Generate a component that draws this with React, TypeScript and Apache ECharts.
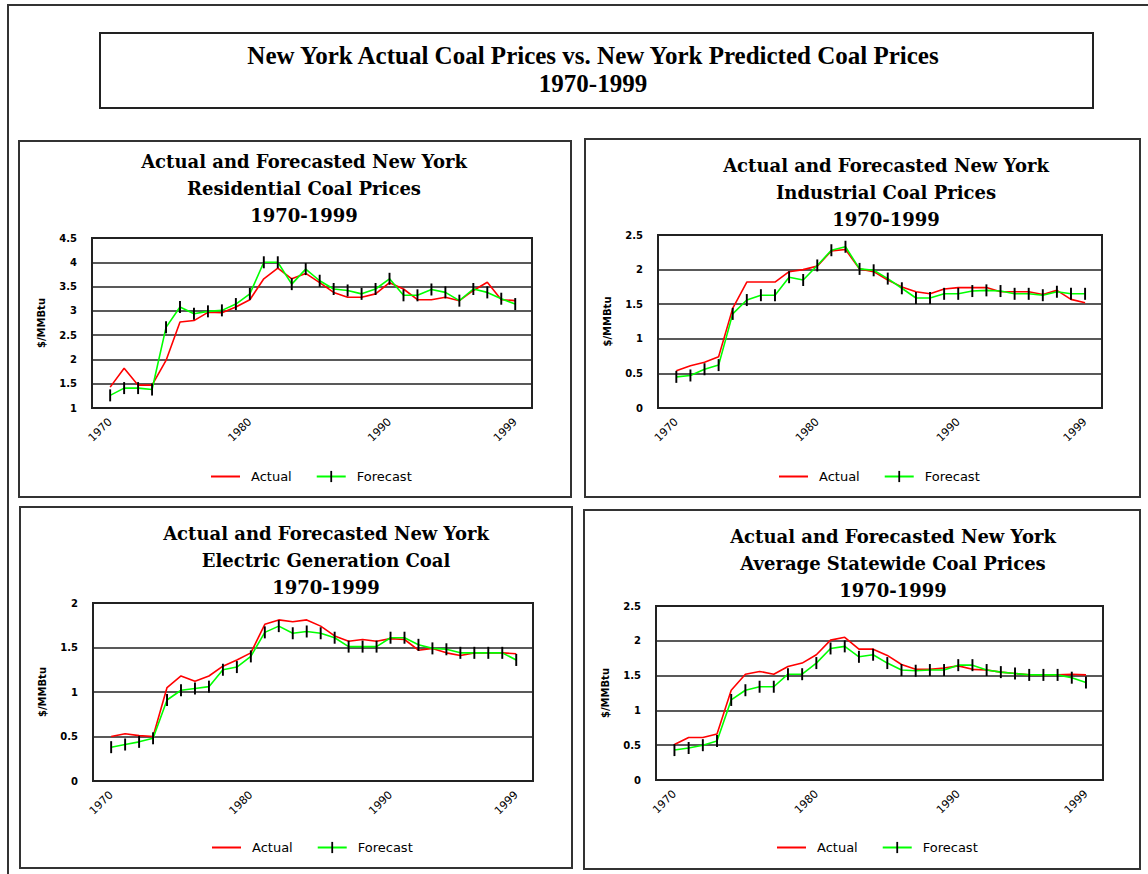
import React, { useEffect, useRef } from "react";
import * as echarts from "echarts";

const years = [
  1970, 1971, 1972, 1973, 1974, 1975, 1976, 1977, 1978, 1979,
  1980, 1981, 1982, 1983, 1984, 1985, 1986, 1987, 1988, 1989,
  1990, 1991, 1992, 1993, 1994, 1995, 1996, 1997, 1998, 1999,
];
const xLabelYears = [1970, 1980, 1990, 1999];
const seriesNames = ["Actual", "Forecast"];

const mainTitle = "New York Actual Coal Prices vs. New York Predicted Coal Prices\n1970-1999";
const panelTitles = [
  "Actual and Forecasted New York\nResidential Coal Prices\n1970-1999",
  "Actual and Forecasted New York\nIndustrial Coal Prices\n1970-1999",
  "Actual and Forecasted New York\nElectric Generation Coal\n1970-1999",
  "Actual and Forecasted New York\nAverage Statewide Coal Prices\n1970-1999",
];
const yAxisName = "$/MMBtu";

const residentialActual = [
  1.43, 1.82, 1.47, 1.47, 1.98, 2.77, 2.8, 2.97, 2.96, 3.08,
  3.23, 3.66, 3.88, 3.66, 3.77, 3.58, 3.38, 3.28, 3.28, 3.35,
  3.58, 3.45, 3.23, 3.23, 3.28, 3.21, 3.42, 3.59, 3.23, 3.21,
];
const residentialForecast = [
  1.26, 1.41, 1.41, 1.38, 2.66, 3.08, 2.94, 2.99, 3.01, 3.14,
  3.35, 4.0, 4.0, 3.55, 3.86, 3.62, 3.45, 3.42, 3.35, 3.45,
  3.66, 3.32, 3.32, 3.44, 3.38, 3.21, 3.45, 3.38, 3.25, 3.14,
];
const industrialActual = [
  0.54, 0.61, 0.66, 0.74, 1.44, 1.82, 1.82, 1.82, 1.97, 2.0,
  2.05, 2.27, 2.29, 2.01, 1.97, 1.85, 1.75, 1.68, 1.65, 1.72,
  1.74, 1.74, 1.74, 1.68, 1.68, 1.68, 1.64, 1.7, 1.57, 1.52,
];
const industrialForecast = [
  0.45, 0.47, 0.56, 0.62, 1.36, 1.56, 1.63, 1.63, 1.89, 1.85,
  2.06, 2.28, 2.33, 2.01, 1.99, 1.87, 1.73, 1.59, 1.59, 1.65,
  1.65, 1.69, 1.7, 1.69, 1.65, 1.65, 1.63, 1.68, 1.65, 1.65,
];
const electricActual = [
  0.5, 0.53, 0.51, 0.5, 1.05, 1.18, 1.12, 1.18, 1.29, 1.36,
  1.44, 1.76, 1.81, 1.79, 1.81, 1.74, 1.63, 1.57, 1.59, 1.57,
  1.6, 1.59, 1.47, 1.49, 1.44, 1.41, 1.44, 1.44, 1.44, 1.43,
];
const electricForecast = [
  0.38, 0.41, 0.44, 0.48, 0.91, 1.02, 1.04, 1.06, 1.25, 1.28,
  1.4, 1.67, 1.74, 1.66, 1.68, 1.66, 1.61, 1.51, 1.51, 1.51,
  1.61, 1.61, 1.53, 1.49, 1.48, 1.44, 1.44, 1.44, 1.44, 1.36,
];
const averageActual = [
  0.51, 0.61, 0.61, 0.66, 1.29, 1.52, 1.56, 1.52, 1.63, 1.68,
  1.8, 2.01, 2.05, 1.88, 1.88, 1.79, 1.66, 1.59, 1.59, 1.61,
  1.64, 1.59, 1.58, 1.55, 1.53, 1.51, 1.51, 1.51, 1.52, 1.51,
];
const averageForecast = [
  0.43, 0.46, 0.5, 0.56, 1.15, 1.29, 1.34, 1.34, 1.52, 1.52,
  1.68, 1.89, 1.92, 1.77, 1.8, 1.68, 1.58, 1.57, 1.58, 1.58,
  1.65, 1.65, 1.58, 1.55, 1.53, 1.51, 1.51, 1.51, 1.47, 1.4,
];

const panelActual = [residentialActual, industrialActual, electricActual, averageActual];
const panelForecast = [residentialForecast, industrialForecast, electricForecast, averageForecast];
const panelYMin = [1, 0, 0, 0];
const panelYMax = [4.5, 2.5, 2, 2.5];

// layout (positions only)
const layout = [
  { box: [19, 141, 552, 356], grid: [92, 238, 440, 170], titleX: 304, titleY: 148, legend: [210, 470] },
  { box: [585, 139, 555, 358], grid: [658, 235, 444, 173], titleX: 886, titleY: 152, legend: [778, 470] },
  { box: [20, 507, 552, 361], grid: [93, 603, 440, 178], titleX: 326, titleY: 520, legend: [211, 841] },
  { box: [584, 510, 556, 359], grid: [656, 606, 447, 174], titleX: 893, titleY: 523, legend: [776, 841] },
];

const MARKER = "path://M0,0M10,10M4.2,0h1.6v10h-1.6z";
const NO_MARKER = "path://M0,0M10,10";

export default function App() {
  const ref = useRef<HTMLDivElement>(null);
  useEffect(() => {
    if (!ref.current) return;
    const chart = echarts.init(ref.current, undefined, { renderer: "svg" });
    const grids: any[] = [];
    const xAxes: any[] = [];
    const yAxes: any[] = [];
    const series: any[] = [];
    const legends: any[] = [];
    const graphics: any[] = [
      {
        type: "rect",
        shape: { x: 8, y: 5, width: 1150, height: 880 },
        style: { fill: "none", stroke: "#333", lineWidth: 2 },
        silent: true,
      },
      {
        type: "rect",
        shape: { x: 100, y: 33, width: 993, height: 75 },
        style: { fill: "none", stroke: "#222", lineWidth: 2 },
        silent: true,
      },
      {
        type: "text",
        x: 593,
        y: 41,
        style: {
          text: mainTitle,
          align: "center",
          verticalAlign: "top",
          fontFamily: "Liberation Serif",
          fontWeight: "bold",
          fontSize: 25,
          lineHeight: 28,
          fill: "#000",
        },
      },
    ];
    layout.forEach((L, i) => {
      graphics.push({
        type: "rect",
        shape: { x: L.box[0], y: L.box[1], width: L.box[2], height: L.box[3] },
        style: { fill: "none", stroke: "#333", lineWidth: 2 },
        silent: true,
      });
      graphics.push({
        type: "text",
        x: L.titleX,
        y: L.titleY,
        style: {
          text: panelTitles[i],
          align: "center",
          verticalAlign: "top",
          fontFamily: "DejaVu Serif",
          fontWeight: "bold",
          fontSize: 18,
          lineHeight: 27,
          fill: "#000",
        },
      });
      grids.push({
        left: L.grid[0],
        top: L.grid[1],
        width: L.grid[2],
        height: L.grid[3],
        show: true,
        borderColor: "#222",
        borderWidth: 2,
        backgroundColor: "#fff",
        containLabel: false,
      });
      xAxes.push({
        type: "value",
        gridIndex: i,
        min: 1968.7,
        max: 2000.2,
        splitLine: { show: false },
        axisLine: { show: false },
        axisTick: { show: false },
        axisLabel: {
          customValues: xLabelYears,
          rotate: 45,
          margin: 12,
          fontFamily: "DejaVu Sans",
          fontSize: 11,
          color: "#000",
          formatter: (v: number) => String(v),
        },
      });
      yAxes.push({
        type: "value",
        gridIndex: i,
        min: panelYMin[i],
        max: panelYMax[i],
        interval: 0.5,
        name: yAxisName,
        nameLocation: "middle",
        nameGap: 46,
        nameRotate: 90,
        nameTextStyle: { fontFamily: "DejaVu Sans", fontWeight: "bold", fontSize: 10, color: "#000" },
        axisLine: { show: false },
        axisTick: { show: false },
        splitLine: { show: true, lineStyle: { color: "#222", width: 1.5 } },
        axisLabel: {
          margin: 15,
          fontFamily: "DejaVu Sans",
          fontWeight: "bold",
          fontSize: 10,
          color: "#000",
        },
      });
      series.push({
        name: seriesNames[0],
        type: "line",
        xAxisIndex: i,
        yAxisIndex: i,
        data: years.map((y, k) => [y, panelActual[i][k]]),
        symbol: NO_MARKER,
        showSymbol: false,
        lineStyle: { color: "#ff0000", width: 1.6 },
        itemStyle: { color: "#ff0000" },
      });
      series.push({
        name: seriesNames[1],
        type: "line",
        xAxisIndex: i,
        yAxisIndex: i,
        data: years.map((y, k) => [y, panelForecast[i][k]]),
        symbol: MARKER,
        symbolSize: 12,
        showSymbol: true,
        lineStyle: { color: "#00ff00", width: 1.6 },
        itemStyle: { color: "#000" },
      });
      legends.push({
        left: L.legend[0],
        top: L.legend[1],
        orient: "horizontal",
        itemWidth: 29,
        itemHeight: 14,
        itemGap: 24,
        padding: 0,
        selectedMode: false,
        data: seriesNames,
        textStyle: { fontFamily: "DejaVu Sans", fontSize: 13, color: "#000", padding: [0, 0, 0, 6] },
      });
    });

    chart.setOption({
      animation: false,
      backgroundColor: "#fff",
      grid: grids,
      xAxis: xAxes,
      yAxis: yAxes,
      series,
      legend: legends,
      graphic: graphics,
    });
    return () => chart.dispose();
  }, []);
  return (
    <div
      ref={ref}
      style={{ position: "fixed", left: 0, top: 0, width: 1148, height: 874 }}
    />
  );
}
